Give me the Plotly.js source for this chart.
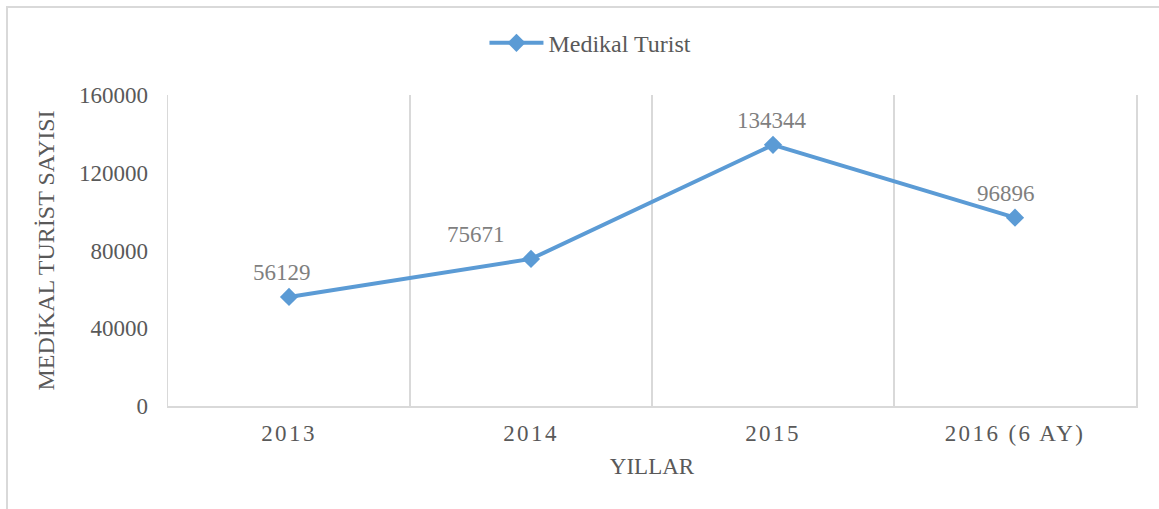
<!DOCTYPE html>
<html>
<head>
<meta charset="utf-8">
<script src="https://cdn.plot.ly/plotly-3.0.1.min.js"></script>
<style>
  html, body { margin: 0; padding: 0; background: #fff; }
  #wrap { position: relative; width: 1159px; height: 509px; overflow: hidden; }
  #chart { position: absolute; left: 0; top: 0; width: 1159px; height: 509px; }
  #frame { position: absolute; left: 6px; top: 6px; width: 1300px; height: 700px;
           border-left: 2px solid #d9d9d9; border-top: 2px solid #d9d9d9; pointer-events: none; }
  .xtick text { letter-spacing: 2.4px; }
</style>
</head>
<body>
<div id="wrap">
  <div id="chart"></div>
  <div id="frame"></div>
</div>
<script>
const categories = ["2013", "2014", "2015", "2016 (6 AY)"];
const values = [56129, 75671, 134344, 96896];
const seriesName = "Medikal Turist";
const yTickVals = [0, 40000, 80000, 120000, 160000];
const yTickText = ["0", "40000", "80000", "120000", "160000"];
const xTitle = "YILLAR";
const yTitle = "MEDİKAL TURİST SAYISI";

const serif = "Liberation Serif, Times New Roman, serif";
const blue = "#5b9bd5";
const grid = "#d9d9d9";

const labelShift = [-7, -55, -1, -9];

const trace = {
  x: categories,
  y: values,
  type: "scatter",
  mode: "lines+markers",
  name: seriesName,
  line: { color: blue, width: 4 },
  marker: { symbol: "diamond", size: 14, color: blue },
  hoverinfo: "x+y"
};

const annotations = categories.map((c, i) => ({
  x: i, y: values[i], xref: "x", yref: "y",
  text: String(values[i]),
  showarrow: false,
  xanchor: "center", yanchor: "bottom",
  xshift: labelShift[i], yshift: 10,
  font: { family: serif, size: 23, color: "#7f7f7f" }
}));

const layout = {
  width: 1159, height: 509,
  margin: { l: 168, r: 23, t: 95, b: 103 },
  paper_bgcolor: "rgba(0,0,0,0)",
  plot_bgcolor: "rgba(0,0,0,0)",
  showlegend: true,
  legend: {
    orientation: "h",
    xref: "container", yref: "container",
    x: 0.418, xanchor: "left",
    y: 0.915, yanchor: "middle",
    itemwidth: 54,
    font: { family: serif, size: 24, color: "#595959" },
    bgcolor: "rgba(0,0,0,0)"
  },
  xaxis: {
    type: "category",
    categoryorder: "array", categoryarray: categories,
    range: [-0.5, 3.5],
    tickson: "boundaries",
    tickangle: 0,
    showgrid: true, gridcolor: grid, gridwidth: 1.5,
    showline: true, linecolor: grid, linewidth: 1.5,
    zeroline: false,
    ticks: "", ticklen: 0,
    tickfont: { family: serif, size: 23, color: "#595959" },
    ticklabelstandoff: 6,
    title: { text: xTitle, font: { family: serif, size: 23, color: "#595959" }, standoff: 13 },
    automargin: false,
    fixedrange: true
  },
  yaxis: {
    range: [0, 160000],
    tickmode: "array", tickvals: yTickVals, ticktext: yTickText,
    showgrid: false, zeroline: false,
    showline: true, mirror: true, linecolor: grid, linewidth: 1.5,
    ticks: "",
    tickfont: { family: serif, size: 23, color: "#595959" },
    ticklabelstandoff: 14,
    title: { text: yTitle, font: { family: serif, size: 24, color: "#595959" }, standoff: 17 },
    automargin: false,
    fixedrange: true
  },
  annotations: annotations
};

Plotly.newPlot("chart", [trace], layout, { displayModeBar: false, staticPlot: true });
</script>
</body>
</html>
